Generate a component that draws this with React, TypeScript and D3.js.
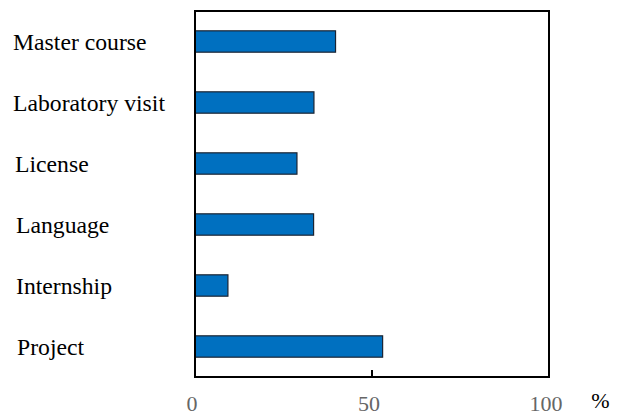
import React from "react";
import * as d3 from "d3";

const categories = ["Master course", "Laboratory visit", "License", "Language", "Internship", "Project"];
const values = [39.7, 33.6, 28.8, 33.5, 9.3, 53.0];
const xTicks = [0, 50, 100];
const labelIndent = [13, 13, 15, 16, 16, 17];

const W = 624;
const H = 414;
const plot = { left: 195, right: 549, top: 11, bottom: 377 };
const font = "'Liberation Serif', 'Times New Roman', 'DejaVu Serif', serif";

export default function App() {
  const x = d3.scaleLinear().domain([0, 100]).range([plot.left, plot.right]);
  const y = d3
    .scaleBand<string>()
    .domain(categories)
    .range([plot.top, plot.bottom])
    .paddingInner(0.65)
    .paddingOuter(0.325);
  return (
    <svg
      width={W}
      height={H}
      style={{ position: "absolute", left: 0, top: 0, background: "#fff", fontFamily: font }}
    >
      {categories.map((c, i) => (
        <g key={c}>
          <rect
            x={x(0)}
            y={y(c)!}
            width={x(values[i]) - x(0)}
            height={y.bandwidth()}
            fill="#0070C0"
            stroke="#1a2433"
            strokeWidth={1.2}
          />
          <text
            x={labelIndent[i]}
            y={y(c)! + y.bandwidth() / 2 + 8.5}
            style={{ fontFamily: font, fontSize: 23.7 }}
            fill="#000"
          >
            {c}
          </text>
        </g>
      ))}
      <rect
        x={plot.left}
        y={plot.top}
        width={plot.right - plot.left}
        height={plot.bottom - plot.top}
        fill="none"
        stroke="#000"
        strokeWidth={2}
      />
      {xTicks.map((t) => (
        <g key={t}>
          <line x1={x(t)} x2={x(t)} y1={plot.bottom} y2={plot.bottom - 7} stroke="#000" strokeWidth={2} />
          <text
            x={x(t) - 3}
            y={411}
            style={{ fontFamily: font, fontSize: 22 }}
            fill="#666"
            textAnchor="middle"
          >
            {t}
          </text>
        </g>
      ))}
      <text x={600.5} y={408} style={{ fontFamily: font, fontSize: 22 }} fill="#000" textAnchor="middle">
        %
      </text>
    </svg>
  );
}
